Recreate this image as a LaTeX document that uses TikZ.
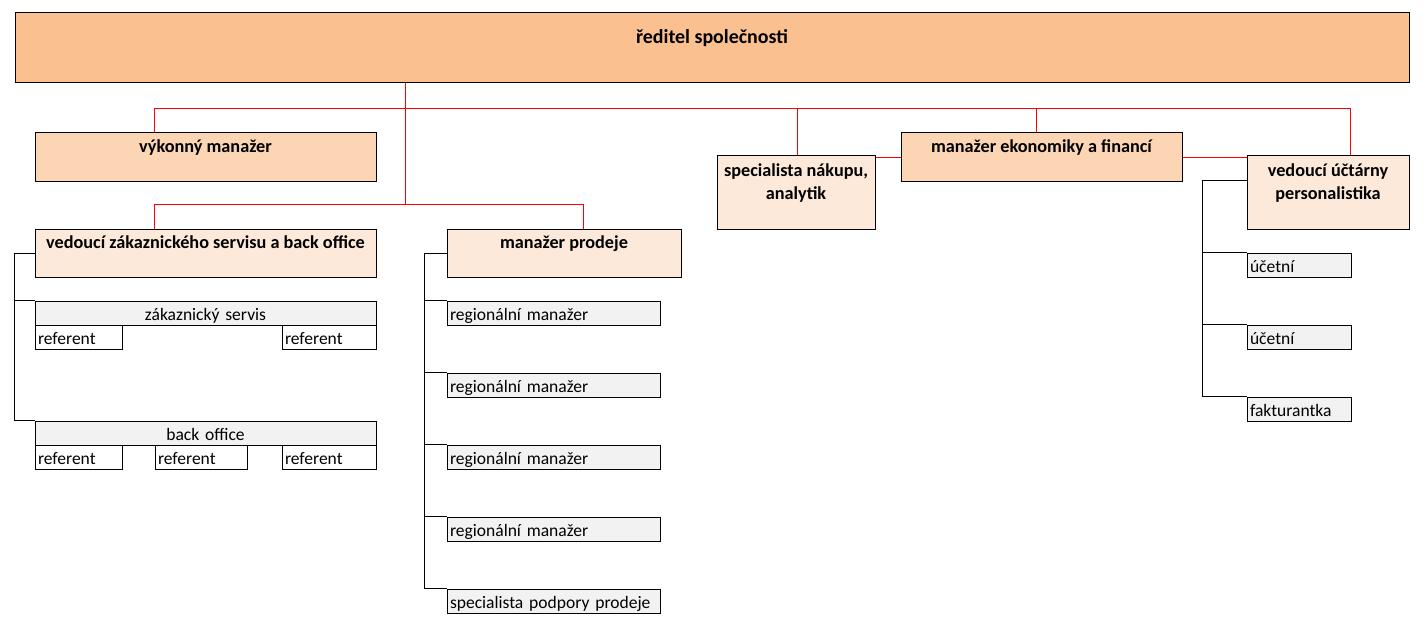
\documentclass[tikz,border=0pt]{standalone}
\usepackage{fontspec}
\setmainfont{Carlito}
\usepackage{xcolor}
\usetikzlibrary{calc}

\definecolor{peach}{HTML}{FAC090}
\definecolor{peachmid}{HTML}{FCD5B4}
\definecolor{peachlight}{HTML}{FDE9D9}
\definecolor{cellgray}{HTML}{F2F2F2}

\begin{document}
\begin{tikzpicture}[x=1bp,y=-1bp,
  head/.style={draw,line width=1bp,anchor=north west,inner sep=0pt,align=center,text height=19.5bp,text depth=28.5bp,font=\fontsize{18.3}{23}\selectfont\bfseries},
  cell/.style={draw,line width=1bp,anchor=north west,inner xsep=3bp,inner ysep=0pt,minimum height=24bp,text height=19bp,text depth=5bp,align=left,fill=cellgray,font=\fontsize{17.6}{20}\selectfont},
  tie/.style={draw=red,line width=1bp},
  link/.style={draw=black,line width=1bp}
]
  \useasboundingbox (-0.5,-0.5) rectangle (1427.5,622.5);

  % Top
  \node[head,fill=peach,minimum width=1394bp,text height=31bp,text depth=39bp,font=\fontsize{20}{24}\selectfont\bfseries] (ceo) at (14,12) {ředitel společnosti};

  % Managers
  \node[head,fill=peachmid,minimum width=341bp,text height=20bp,text depth=28bp] (vm) at (34,132) {výkonný manažer};
  \node[head,fill=peachlight,minimum width=341bp] (vz) at (34,228) {vedoucí zákaznického servisu a back office};
  \node[head,fill=peachlight,minimum width=234bp] (mp) at (446,228) {manažer prodeje};
  \node[head,fill=peachlight,minimum width=158bp,text height=43bp,text depth=30bp] (snp) at (716,155) {specialista nákupu,\\analytik};
  \node[head,fill=peachmid,minimum width=281bp,text height=20bp,text depth=28bp] (mef) at (900,132) {manažer ekonomiky a financí};
  \node[head,fill=peachlight,minimum width=162bp,text height=43bp,text depth=30bp] (vu) at (1246,155) {vedoucí účtárny\\personalistika};

  % Customer service and back office
  \node[cell,text width=335bp,align=center] (zs) at (34,300) {zákaznický servis};
  \node[cell,fill=white,text width=81bp] (zs1) at (34,324) {referent};
  \node[cell,fill=white,text width=88bp] (zs2) at (281,324) {referent};
  \node[cell,text width=335bp,align=center] (bo) at (34,420) {back office};
  \node[cell,fill=white,text width=81bp] (bo1) at (34,444) {referent};
  \node[cell,fill=white,text width=86bp] (bo2) at (154,444) {referent};
  \node[cell,fill=white,text width=88bp] (bo3) at (281,444) {referent};

  % Sales
  \node[cell,text width=207bp] (rm1) at (446,300) {regionální manažer};
  \node[cell,text width=207bp] (rm2) at (446,372) {regionální manažer};
  \node[cell,text width=207bp] (rm3) at (446,444) {regionální manažer};
  \node[cell,text width=207bp] (rm4) at (446,516) {regionální manažer};
  \node[cell,text width=207bp] (spp) at (446,588) {specialista podpory prodeje};

  % Accounting
  \node[cell,text width=98bp] (uc1) at (1246,252) {účetní};
  \node[cell,text width=98bp] (uc2) at (1246,324) {účetní};
  \node[cell,text width=98bp] (fak) at (1246,396) {fakturantka};

  % Red lines
  \coordinate (hub) at (405,108);
  \coordinate (hubb) at (405,204);
  \coordinate (snptop) at ([xshift=81bp]snp.north west);
  \coordinate (meftop) at ([xshift=-5bp]mef.north);
  \draw[tie] (ceo.south -| hub) -- (hubb);
  \draw[tie] ([xshift=120bp]vm.north west) |- (hub) -| ([xshift=104bp]vu.north west);
  \draw[tie] (snptop) -- (snptop |- hub);
  \draw[tie] (meftop) -- (meftop |- hub);
  \draw[tie] ([yshift=-2bp]snp.north east) -- ([yshift=-2bp]snp.north east -| mef.west);
  \draw[tie] ([yshift=-2bp]vu.north west) -- ([yshift=-2bp]vu.north west -| mef.east);
  \draw[tie] ([xshift=120bp]vz.north west) |- (hubb) -| ([xshift=137bp]mp.north west);

  % Black lines
  \draw[link] (vz.west) -| ([xshift=-20bp]bo.north west) -- (bo.north west);
  \draw[link] ([xshift=-20bp]zs.north west) -- (zs.north west);
  \draw[link] (mp.west) -| ([xshift=-22bp]spp.north west) -- (spp.north west);
  \draw[link] ([xshift=-22bp]rm1.north west) -- (rm1.north west);
  \draw[link] ([xshift=-22bp]rm2.north west) -- (rm2.north west);
  \draw[link] ([xshift=-22bp]rm3.north west) -- (rm3.north west);
  \draw[link] ([xshift=-22bp]rm4.north west) -- (rm4.north west);
  \draw[link] ([yshift=-25bp]vu.north west) -| ([xshift=-44bp]fak.north west) -- (fak.north west);
  \draw[link] ([xshift=-44bp]uc1.north west) -- (uc1.north west);
  \draw[link] ([xshift=-44bp]uc2.north west) -- (uc2.north west);
\end{tikzpicture}
\end{document}
